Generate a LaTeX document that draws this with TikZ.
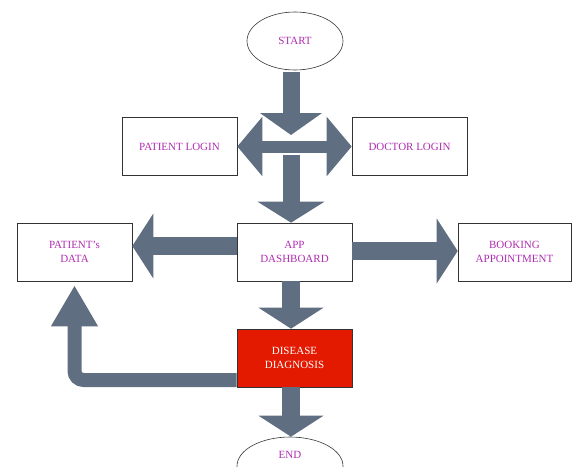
\documentclass[tikz,border=0pt]{standalone}
\usepackage{fontspec}
\setmainfont{Liberation Serif}
\usetikzlibrary{positioning, arrows.meta, shapes.geometric, calc}
\definecolor{flowText}{HTML}{B02DB0}
\definecolor{flowArrow}{HTML}{5F6E80}
\definecolor{flowRed}{HTML}{E31A00}
\definecolor{flowEdge}{HTML}{333333}

\begin{document}
\begin{tikzpicture}[x=1pt, y=1pt, font=\fontsize{11}{14}\selectfont,
    box/.style={draw=flowEdge, semithick, fill=white, minimum width=115pt,
                minimum height=58pt, align=center, text=flowText, inner sep=2pt},
    oval/.style={draw=flowEdge, semithick, ellipse, fill=white,
                 minimum width=96pt, minimum height=58pt, text=flowText},
    fat/.style={draw=flowArrow, line width=18pt},
    bigtip/.style={-{Triangle[length=21pt, width=64pt]}}]
  \useasboundingbox (0,0) rectangle (572,-466);

  \node[oval] (start) at (295,-41) {START};
  \node[box] (plogin) at (179.5,-146.5) {PATIENT LOGIN};
  \node[box] (dlogin) at (409.5,-146.5) {DOCTOR LOGIN};
  \node[box] (dash) at (294.5,-252) {APP\\DASHBOARD};
  \node[box] (pdata) at (74.5,-252) {PATIENT's\\DATA};
  \node[box, minimum width=113pt] (book) at (514.5,-252) {BOOKING\\APPOINTMENT};
  \node[box, fill=flowRed, text=white] (disease) at (294.5,-358) {DISEASE\\DIAGNOSIS};
  \node[oval, minimum width=106pt] (end) at (290,-466) {};
  \node[text=flowText, inner sep=0pt] (endtext) at (290,-455) {END};

  \coordinate (hubtop) at (291,-135);
  \coordinate (hubbot) at (291,-155);

  \draw[fat, line width=12pt,
        {Triangle[length=25pt, width=58pt]}-{Triangle[length=25pt, width=58pt]}]
    (plogin.east) -- (dlogin.west);
  \draw[fat, line width=17pt, -{Triangle[length=22pt, width=61pt]}]
    ($(start.south -| hubtop)+(0,-2)$) -- (hubtop);
  \draw[fat, line width=17pt, -{Triangle[length=21pt, width=66pt]}]
    (hubbot) -- (hubbot |- dash.north);
  \draw[fat, bigtip] ([yshift=6pt]dash.west) -- ([yshift=6pt]pdata.east);
  \draw[fat, bigtip] ([yshift=1pt]dash.east) -- ([yshift=1pt]book.west);
  \draw[fat, bigtip] (dash.south -| hubbot) -- (disease.north -| hubbot);
  \draw[fat, bigtip] (disease.south -| hubbot) -- (end.north -| hubbot);
  \draw[fat, line width=14pt, rounded corners=9pt, shorten >=4pt,
        -{Triangle[length=41pt, width=44pt]}]
    ([yshift=-22pt]disease.west) -| (pdata.south);
\end{tikzpicture}
\end{document}
